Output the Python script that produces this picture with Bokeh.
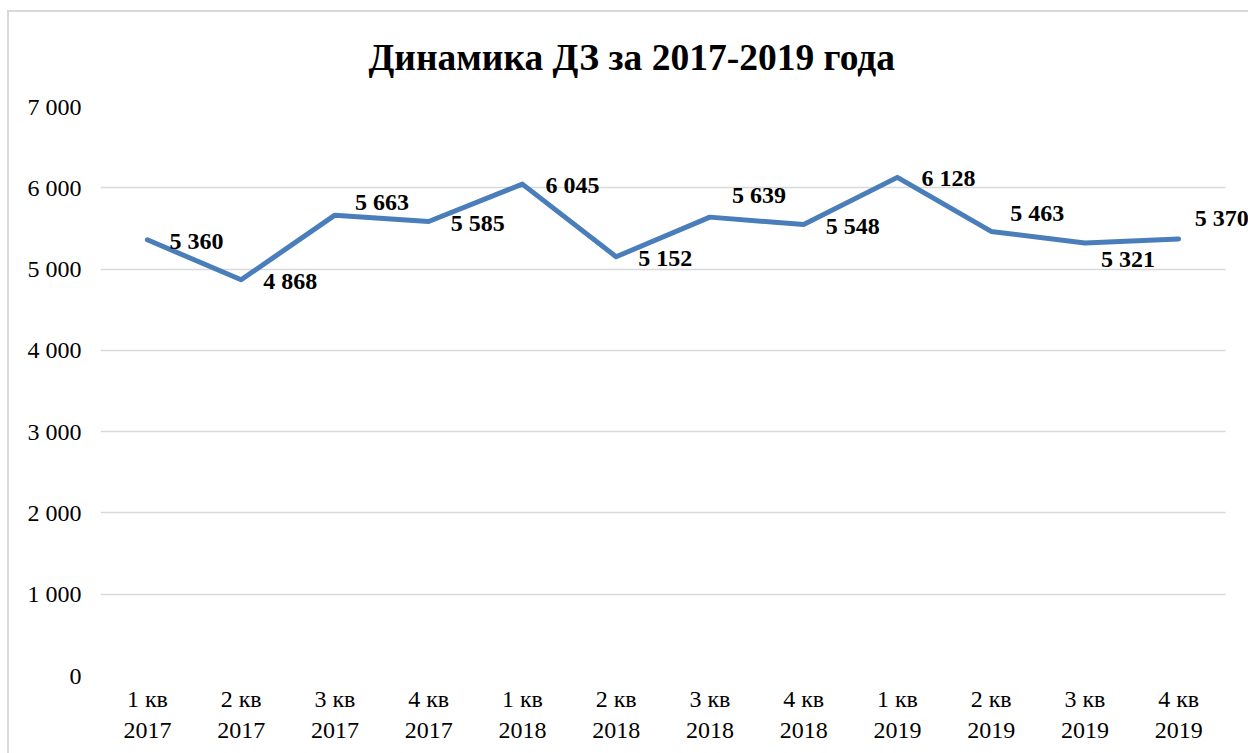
import numpy as np
from bokeh.plotting import figure
from bokeh.models import (ColumnDataSource, Range1d, LabelSet, FixedTicker, BoxAnnotation)
from bokeh.embed import file_html
from bokeh.resources import INLINE

# ---- data ----
categories = ["1 кв\n2017", "2 кв\n2017", "3 кв\n2017", "4 кв\n2017",
              "1 кв\n2018", "2 кв\n2018", "3 кв\n2018", "4 кв\n2018",
              "1 кв\n2019", "2 кв\n2019", "3 кв\n2019", "4 кв\n2019"]
values = [5360, 4868, 5663, 5585, 6045, 5152, 5639, 5548, 6128, 5463, 5321, 5370]
value_labels = ["5 360", "4 868", "5 663", "5 585", "6 045", "5 152",
                "5 639", "5 548", "6 128", "5 463", "5 321", "5 370"]
y_ticks = [0, 1000, 2000, 3000, 4000, 5000, 6000, 7000]
y_tick_labels = ["0", "1 000", "2 000", "3 000", "4 000", "5 000", "6 000", "7 000"]
title_text = "Динамика ДЗ за 2017-2019 года"

# label placement (styling: pixel offsets of each label's left edge from its point)
label_dx = [22, 22, 20, 22, 23, 22, 22, 22, 24, 19, 16, 16]
label_dy = [-1, -1, 13, -1, -1, -1, 22, -1, -1, 18, -16, 21]

FONT = "Liberation Serif"

n = len(categories)
xpos = list(np.arange(n) + 0.5)          # category centres
x_extra = n * (1248 - 100) / (1225 - 100)  # let the frame run to the page edge

p = figure(width=1248, height=753, x_range=Range1d(0, x_extra),
           y_range=Range1d(0, 7000), output_backend="svg", toolbar_location=None,
           min_border_left=100, min_border_right=0, min_border_top=106,
           min_border_bottom=78)
p.outline_line_color = None
p.background_fill_color = "white"
p.border_fill_color = None
p.styles = {
    "background-color": "white",
    "background-image": "linear-gradient(#d9d9d9, #d9d9d9), linear-gradient(#d9d9d9, #d9d9d9)",
    "background-size": "2px 100%, 100% 2px",
    "background-position": "7px 10px, 7px 10px",
    "background-repeat": "no-repeat",
}

# plot area ends after the last category: hide grid beyond it
p.add_layout(BoxAnnotation(left=n, fill_color="white", fill_alpha=1,
                           line_color=None, level="underlay"))

src = ColumnDataSource(dict(x=xpos, y=values, t=value_labels,
                            dx=label_dx, dy=label_dy))
p.line("x", "y", source=src, line_color="#4a7ebb", line_width=5,
       line_cap="round", line_join="round")

labels = LabelSet(x="x", y="y", text="t", source=src, x_offset="dx", y_offset="dy",
                  text_font=FONT, text_font_style="bold", text_font_size="24px",
                  text_color="black", text_align="left", text_baseline="middle")
p.add_layout(labels)

# axes
p.yaxis.ticker = FixedTicker(ticks=y_ticks)
p.yaxis.major_label_overrides = {t: l for t, l in zip(y_ticks, y_tick_labels)}
p.xaxis.ticker = FixedTicker(ticks=xpos)
p.xaxis.major_label_overrides = {x: c for x, c in zip(xpos, categories)}
for ax in (p.xaxis[0], p.yaxis[0]):
    ax.axis_line_color = None
    ax.major_tick_line_color = None
    ax.minor_tick_line_color = None
    ax.major_label_text_font = FONT
    ax.major_label_text_font_size = "24px"
    ax.major_label_text_color = "#000000"
p.yaxis.major_label_standoff = 13
p.xaxis.major_label_standoff = 4
p.xgrid.grid_line_color = None
p.ygrid.grid_line_color = "#d9d9d9"
p.ygrid.grid_line_width = 1.5
p.ygrid.ticker = FixedTicker(ticks=y_ticks)

# title
p.title.text = title_text
p.title.align = "left"
p.title.offset = 268
p.title.text_font = FONT
p.title.text_font_style = "bold"
p.title.text_font_size = "37.5px"
p.title.text_color = "black"
p.title.standoff = 58

open("out.html", "w").write(file_html(p, INLINE))
